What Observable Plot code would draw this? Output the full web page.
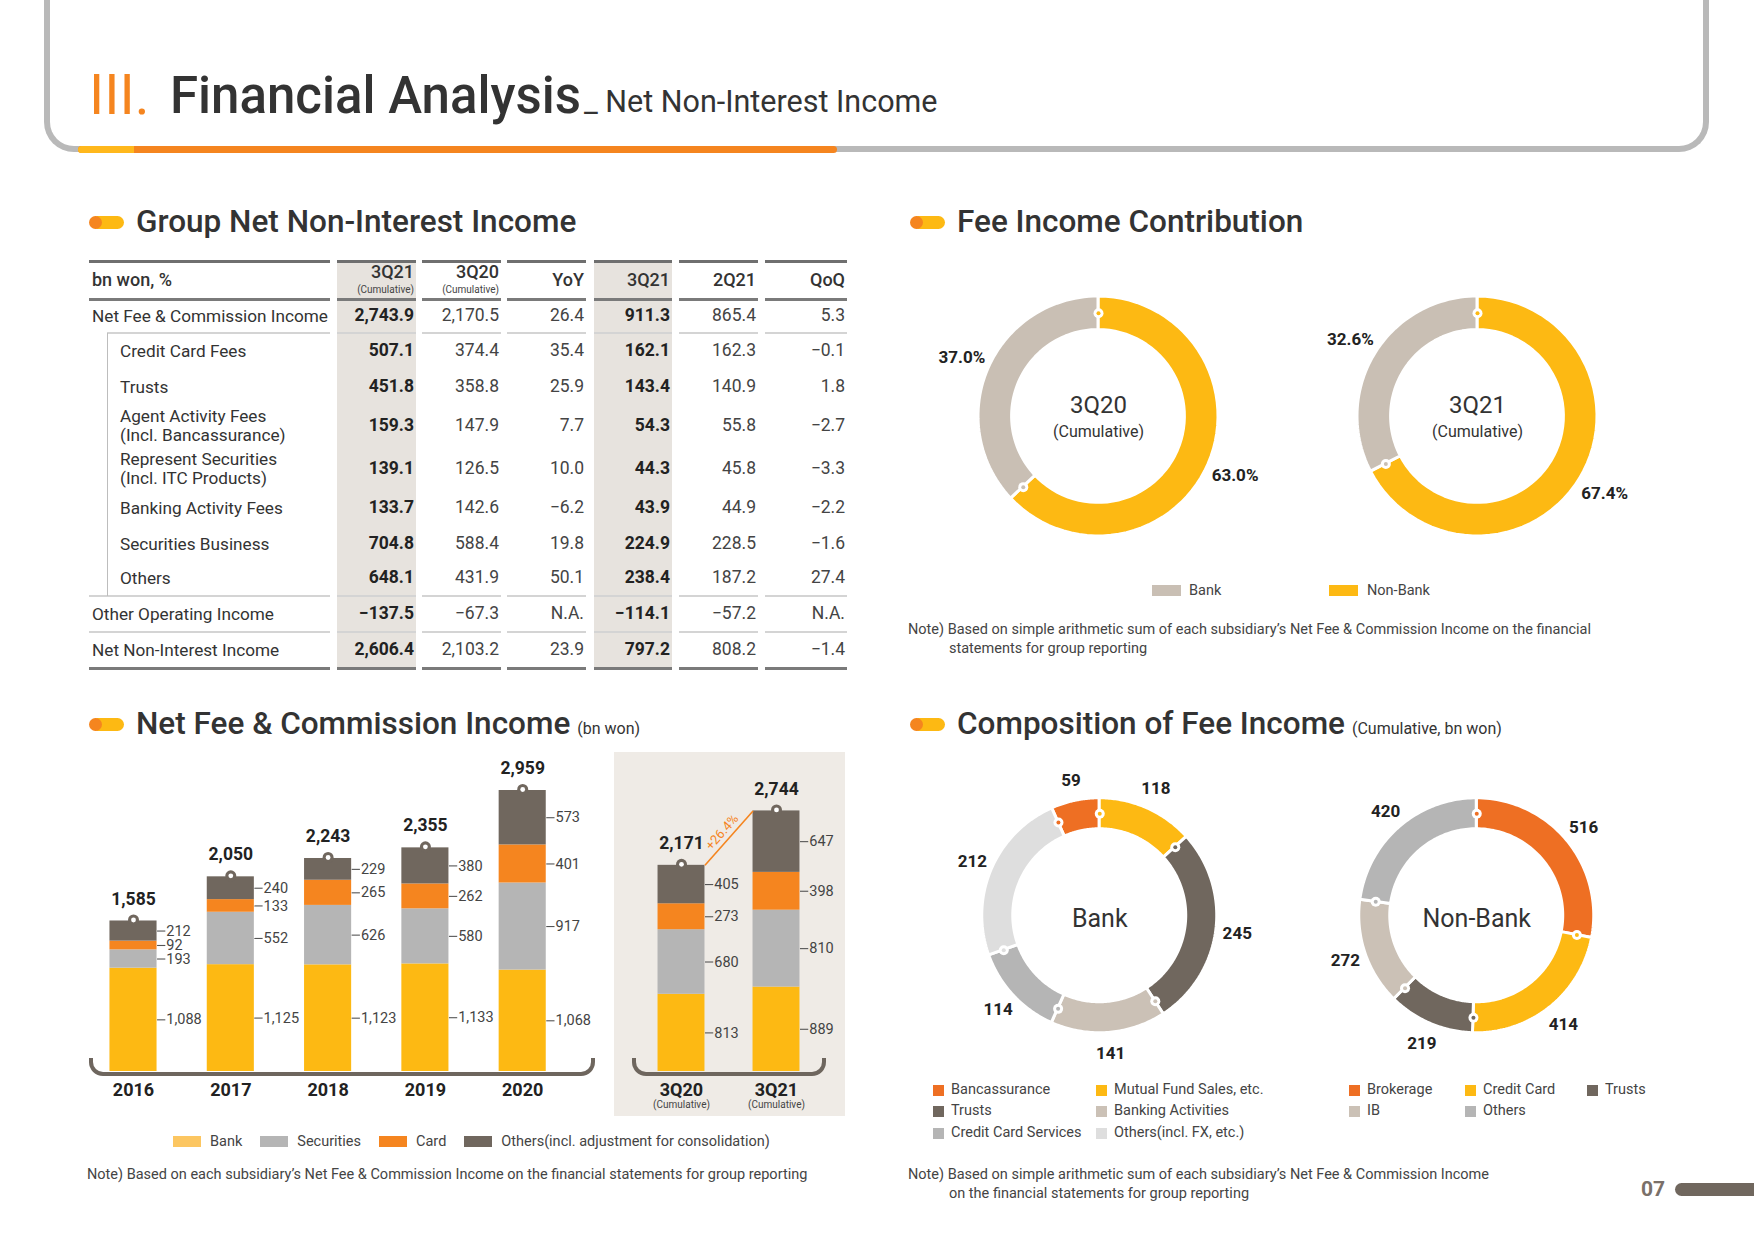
<!DOCTYPE html>
<html><head><meta charset="utf-8">
<script src="https://cdn.jsdelivr.net/npm/d3@7"></script>
<script src="https://cdn.jsdelivr.net/npm/@observablehq/plot@0.6"></script>
<style>
body{margin:0;background:#fff;}
#page{position:relative;width:1754px;height:1241px;overflow:hidden;font-family:Roboto,"Noto Sans",sans-serif;color:#333;background:#fff;}
.abs{position:absolute;}
.t{position:absolute;white-space:pre;line-height:1;transform:translateY(-50%);}
</style></head><body><div id="page"></div>
<script>
// ---------------- DATA ----------------
const tableHeader = ["3Q21","3Q20","YoY","3Q21","2Q21","QoQ"];
const tableHeaderSub = ["(Cumulative)","(Cumulative)","","","",""];
const tableLabels = ["Net Fee & Commission Income","Credit Card Fees","Trusts","Agent Activity Fees\n(Incl. Bancassurance)","Represent Securities\n(Incl. ITC Products)","Banking Activity Fees","Securities Business","Others","Other Operating Income","Net Non-Interest Income"];
const tableSubRow = [0,1,1,1,1,1,1,1,0,0];
const cum3Q21 = [2743.9,507.1,451.8,159.3,139.1,133.7,704.8,648.1,-137.5,2606.4];
const cum3Q20 = [2170.5,374.4,358.8,147.9,126.5,142.6,588.4,431.9,-67.3,2103.2];
const yoy     = [26.4,35.4,25.9,7.7,10.0,-6.2,19.8,50.1,null,23.9];
const q3Q21   = [911.3,162.1,143.4,54.3,44.3,43.9,224.9,238.4,-114.1,797.2];
const q2Q21   = [865.4,162.3,140.9,55.8,45.8,44.9,228.5,187.2,-57.2,808.2];
const qoq     = [5.3,-0.1,1.8,-2.7,-3.3,-2.2,-1.6,27.4,null,-1.4];

const years = ["2016","2017","2018","2019","2020"];
const bankFee = [1088,1125,1123,1133,1068];
const securitiesFee = [193,552,626,580,917];
const cardFee = [92,133,265,262,401];
const othersFee = [212,240,229,380,573];
const yearTotals = [1585,2050,2243,2355,2959];

const cumPeriods = ["3Q20","3Q21"];
const cumBank = [813,889];
const cumSecurities = [680,810];
const cumCard = [273,398];
const cumOthers = [405,647];
const cumTotals = [2171,2744];
const cumGrowth = "+26.4%";

const seriesNames = ["Bank","Securities","Card","Others(incl. adjustment for consolidation)"];

const contribCats = ["Non-Bank","Bank"];
const contrib3Q20 = [63.0,37.0];
const contrib3Q21 = [67.4,32.6];

const bankCompCats = ["Bancassurance","Mutual Fund Sales, etc.","Trusts","Banking Activities","Credit Card Services","Others(incl. FX, etc.)"];
const bankCompVals = [59,118,245,141,114,212];
const nonBankCompCats = ["Brokerage","Credit Card","Trusts","IB","Others"];
const nonBankCompVals = [516,414,219,272,420];

// ---------------- STYLE ----------------
const C = {yellow:"#fdb913", orange:"#f5851f", red:"#ee6f23", gray:"#b5b5b5", dark:"#70675e", beige:"#cbc1b6", light:"#dedede", text:"#333"};
const barColors = [C.yellow, C.gray, C.orange, C.dark];
const barLegendColors = ["#fcc661", C.gray, C.orange, C.dark];
const contribColors = [C.yellow, "#c9bfb4"];
const bankCompColors = [C.red, C.yellow, C.dark, C.beige, C.gray, C.light];
const nonBankCompColors = [C.red, C.yellow, C.dark, C.beige, C.gray];

const page = document.getElementById("page");
function box(x,y,w,h,css){const d=document.createElement("div");d.className="abs";Object.assign(d.style,{left:x+"px",top:y+"px",width:w+"px",height:h+"px"},css||{});page.appendChild(d);return d;}
function txt(x,y,s,css,anchor){const d=document.createElement("div");d.className="t";d.textContent=s;Object.assign(d.style,{left:x+"px",top:y+"px"},css||{});
  if(anchor==="end")d.style.transform="translate(-100%,-50%)";else if(anchor==="middle")d.style.transform="translate(-50%,-50%)";page.appendChild(d);return d;}
function place(svg,L,T){svg.style.position="absolute";svg.style.left=L+"px";svg.style.top=T+"px";page.appendChild(svg);}
const plotStyle = {fontFamily:"Roboto, 'Noto Sans', sans-serif", background:"transparent", overflow:"visible", color:C.text};

// ---------------- HEADER ----------------
box(44,-30,1665,182,{border:"6px solid #b9b9b9",borderTop:"none",borderRadius:"0 0 30px 30px",boxSizing:"border-box"});
box(78,146,759,7,{background:C.orange,borderRadius:"4px"});
box(78,146,56,7,{background:"#ffb81c",borderRadius:"4px 0 0 4px"});
txt(89,95,"III.",{fontSize:"56px",color:C.orange,fontWeight:"400"});
txt(170,95,"Financial Analysis",{fontSize:"51px",color:"#333",fontWeight:"500"});
txt(584,102,"_ Net Non-Interest Income",{fontSize:"30.5px",color:"#333",fontWeight:"400"});

function heading(x,y,title,sub){
  box(x+2,y-6.5,33,13,{background:C.yellow,borderRadius:"7px"});
  box(x,y-6.5,13,13,{background:C.orange,borderRadius:"50%"});
  const d=txt(x+47,y,title,{fontSize:"31.5px",fontWeight:"500",color:"#333"});
  if(sub){const s=document.createElement("span");s.textContent=" "+sub;s.style.fontSize="16px";s.style.fontWeight="400";s.style.marginLeft="3px";d.appendChild(s);}
}
heading(89,222,"Group Net Non-Interest Income");
heading(910,222,"Fee Income Contribution");
heading(89,724,"Net Fee & Commission Income","(bn won)");
heading(910,724,"Composition of Fee Income","(Cumulative, bn won)");

// ---------------- TABLE ----------------
const tCols = [{x0:337,x1:416},{x0:422,x1:501},{x0:507,x1:586},{x0:594,x1:672},{x0:679,x1:758},{x0:765,x1:847}];
const boldCols = [0,3];
const tTop = 261, tBottom = 668;
const rowCenters = [316,351,387,426,469,508,544,578,614,650];
boldCols.forEach(c=>box(tCols[c].x0,tTop,tCols[c].x1-tCols[c].x0,tBottom-tTop,{background:"#e7e3de"}));
function hline(y,th,color,labelX0){
  box(labelX0,y-th/2,330-labelX0,th,{background:color});
  tCols.forEach(c=>box(c.x0,y-th/2,c.x1-c.x0,th,{background:color}));
}
hline(tTop,3,"#6f6f6f",89);
hline(299,3,"#7a7a7a",89);
hline(333,2,"#d4d4d4",107);
hline(596,2,"#d4d4d4",89);
hline(632,2,"#d4d4d4",89);
hline(tBottom,3,"#7a7a7a",89);
box(107,333,1,263,{background:"#bdbdbd"});
txt(92,280,"bn won, %",{fontSize:"18px",fontWeight:"500",color:"#333"});
tableHeader.forEach((h,i)=>{
  const sub=tableHeaderSub[i];
  txt(tCols[i].x1-2, sub?272:280, h, {fontSize:"18px",fontWeight:"500",color:"#333"},"end");
  if(sub) txt(tCols[i].x1-2, 290, sub, {fontSize:"10px",color:"#444"},"end");
});
const fmt1 = v => v==null ? "N.A." : d3.format(",.1f")(v);
const tableData = [cum3Q21,cum3Q20,yoy,q3Q21,q2Q21,qoq];
tableLabels.forEach((lab,r)=>{
  txt(tableSubRow[r]?120:92, rowCenters[r], lab, {fontSize:"17.2px",lineHeight:"19px",color:"#333",fontWeight:"400"});
  tableData.forEach((col,c)=>{
    const bold = boldCols.includes(c);
    txt(tCols[c].x1-2, rowCenters[r], fmt1(col[r]), {fontSize:"17.5px",fontWeight:bold?"700":"400",color:bold?"#222":"#444"},"end");
  });
});

// ---------------- BAR PANELS ----------------
function stackRows(arrays){
  const rows=[];
  arrays[0].forEach((_,i)=>{let acc=0;arrays.forEach((arr,s)=>{rows.push({i,series:seriesNames[s],v:arr[i],y1:acc,y2:acc+arr[i]});acc+=arr[i];});});
  return rows;
}
const fmt0 = d3.format(",");
function barPanel({labels,arrays,totals,L,T,W,H,xFirst,step,base,k,hw,tick,sub,extra}){
  const rows = stackRows(arrays);
  const n = labels.length;
  const marks = [
    Plot.rect(rows,{x1:d=>d.i-hw,x2:d=>d.i+hw,y1:"y1",y2:"y2",fill:"series"}),
    Plot.link(rows,{x1:d=>d.i+hw,x2:d=>d.i+hw+tick,y1:d=>(d.y1+d.y2)/2,y2:d=>(d.y1+d.y2)/2,stroke:"#555",strokeWidth:1.1}),
    Plot.text(rows,{x:d=>d.i+hw+tick,y:d=>(d.y1+d.y2)/2,text:d=>fmt0(d.v),textAnchor:"start",dx:1,fontSize:14.5,fill:"#444"}),
    Plot.dot(totals,{x:(d,i)=>i,y:d=>d,r:5.5,fill:C.dark,dy:-1}),
    Plot.dot(totals,{x:(d,i)=>i,y:d=>d,r:2.4,fill:"white",dy:-1}),
    Plot.text(totals,{x:(d,i)=>i,y:d=>d,text:d=>fmt0(d),dy:-22,fontSize:17.5,fontWeight:"bold",fill:"#222"}),
    Plot.text(labels,{x:(d,i)=>i,y:()=>0,text:d=>d,dy:19,fontSize:18,fontWeight:"bold",fill:"#222"})
  ];
  if(sub) marks.push(Plot.text(labels,{x:(d,i)=>i,y:()=>0,text:()=>sub,dy:33,fontSize:10,fill:"#444"}));
  if(extra) marks.push(...extra(hw));
  const p = Plot.plot({
    width:W,height:H,margin:0,
    x:{type:"linear",domain:[0,n-1],range:[xFirst-L,xFirst-L+(n-1)*step],axis:null},
    y:{domain:[0,3000],range:[base-T,base-T-3000*k],axis:null},
    color:{domain:seriesNames,range:barColors},
    style:plotStyle,
    marks
  });
  place(p,L,T);
}
const BASE = 1071, K = 281/2959;
// shaded background for cumulative panel and brackets
box(614,752,231,364,{background:"#efebe6"});
box(89,1058,506,18,{border:"4px solid #6e665e",borderTop:"none",borderRadius:"0 0 14px 14px",boxSizing:"border-box"});
box(632,1058,194,18,{border:"4px solid #6e665e",borderTop:"none",borderRadius:"0 0 14px 14px",boxSizing:"border-box"});
barPanel({labels:years,arrays:[bankFee,securitiesFee,cardFee,othersFee],totals:yearTotals,L:80,T:720,W:540,H:400,xFirst:133,step:97.3,base:BASE,k:K,hw:0.242,tick:0.085});
barPanel({labels:cumPeriods,arrays:[cumBank,cumSecurities,cumCard,cumOthers],totals:cumTotals,L:614,T:752,W:231,H:364,xFirst:681,step:95,base:BASE,k:K,hw:0.247,tick:0.087,sub:"(Cumulative)",
  extra:(hw)=>[
    Plot.link([cumTotals],{x1:()=>hw,y1:d=>d[0],x2:()=>1-hw,y2:d=>d[1],stroke:C.orange,strokeWidth:1.6}),
    Plot.text([cumTotals],{x:()=>0.5,y:d=>(d[0]+d[1])/2,text:()=>cumGrowth,rotate:-48.6,dx:-7,dy:-6,fontSize:13,fill:C.orange})
  ]});
// bar legend
(function(){
  const wrap=box(173,1133,700,16,{display:"flex",alignItems:"center",gap:"18px",fontSize:"14.5px",color:"#444"});
  seriesNames.forEach((s,i)=>{const it=document.createElement("div");it.style.display="flex";it.style.alignItems="center";it.style.gap="9px";
    const sw=document.createElement("div");sw.style.width="28px";sw.style.height="11px";sw.style.background=barLegendColors[i];
    const t=document.createElement("span");t.textContent=s;t.style.whiteSpace="nowrap";it.appendChild(sw);it.appendChild(t);wrap.appendChild(it);});
})();
txt(87,1175,"Note) Based on each subsidiary’s Net Fee & Commission Income on the financial statements for group reporting",{fontSize:"14.5px",color:"#444"});

// ---------------- DONUTS ----------------
function donut({cats,vals,colors,cx,cy,R,ri,firstEndsAtTop,labelR,labelText,labelSize,center}){
  const S=3*R, total=d3.sum(vals);
  let acc = firstEndsAtTop ? -vals[0]/total*2*Math.PI : 0;
  const slices = vals.map((v,k)=>{const a0=acc;acc+=v/total*2*Math.PI;return {k,cat:cats[k],v,a0,a1:acc,mid:(a0+acc)/2};});
  const pts = slices.flatMap(s=>d3.range(0,61).map(j=>{const a=s.a0+(s.a1-s.a0)*j/60;return {k:s.k,cat:s.cat,xo:Math.sin(a),yo:Math.cos(a),xi:ri*Math.sin(a),yi:ri*Math.cos(a)};}));
  const rm=(1+ri)/2;
  const marks=[
    Plot.area(pts,{x1:"xo",y1:"yo",x2:"xi",y2:"yi",z:"k",fill:"cat",stroke:"white",strokeWidth:3}),
    Plot.dot(slices,{x:s=>Math.sin(s.a0)*rm,y:s=>Math.cos(s.a0)*rm,r:5,fill:"white"}),
    Plot.dot(slices,{x:s=>Math.sin(s.a0)*rm,y:s=>Math.cos(s.a0)*rm,r:2,fill:"cat"}),
    Plot.text(slices,{x:s=>Math.sin(s.mid)*labelR,y:s=>Math.cos(s.mid)*labelR,text:labelText,fontSize:labelSize,fontWeight:"bold",fill:"#222"})
  ];
  center.forEach(c=>marks.push(Plot.text([c.text],{x:()=>0,y:()=>0,text:d=>d,dy:c.dy,fontSize:c.size,fill:"#333"})));
  const p=Plot.plot({width:S,height:S,margin:0,
    x:{domain:[-1.5,1.5],range:[0,S],axis:null},
    y:{domain:[-1.5,1.5],range:[S,0],axis:null},
    color:{domain:cats,range:colors},
    style:plotStyle,marks});
  place(p,cx-S/2,cy-S/2);
}
const fmtPct = d3.format(".1f");
donut({cats:contribCats,vals:contrib3Q20,colors:contribColors,cx:1098,cy:416,R:120,ri:0.72,firstEndsAtTop:false,labelR:1.24,labelText:s=>fmtPct(s.v)+"%",labelSize:17,
  center:[{text:"3Q20",dy:-11,size:24},{text:"(Cumulative)",dy:15,size:16}]});
donut({cats:contribCats,vals:contrib3Q21,colors:contribColors,cx:1476.5,cy:416,R:120,ri:0.72,firstEndsAtTop:false,labelR:1.24,labelText:s=>fmtPct(s.v)+"%",labelSize:17,
  center:[{text:"3Q21",dy:-11,size:24},{text:"(Cumulative)",dy:15,size:16}]});
donut({cats:bankCompCats,vals:bankCompVals,colors:bankCompColors,cx:1099,cy:915,R:117.5,ri:0.736,firstEndsAtTop:true,labelR:1.18,labelText:s=>fmt0(s.v),labelSize:17,
  center:[{text:"Bank",dy:3,size:25}]});
donut({cats:nonBankCompCats,vals:nonBankCompVals,colors:nonBankCompColors,cx:1476.5,cy:915,R:117.5,ri:0.736,firstEndsAtTop:false,labelR:1.18,labelText:s=>fmt0(s.v),labelSize:17,
  center:[{text:"Non-Bank",dy:3,size:25}]});

// contribution legend
[[1152,1189],[1329,1367]].forEach(([sx,tx],i)=>{
  const k = contribCats.length-1-i; // Bank first, then Non-Bank
  box(sx,585,29,11,{background:contribColors[k]});
  txt(tx,591,contribCats[k],{fontSize:"14.5px",color:"#444"});
});
txt(908,630,"Note) Based on simple arithmetic sum of each subsidiary’s Net Fee & Commission Income on the financial",{fontSize:"14.5px",color:"#444"});
txt(949,649,"statements for group reporting",{fontSize:"14.5px",color:"#444"});

// composition legends
function gridLegend(cats,colors,colX,rowY){
  const nc=colX.length;
  cats.forEach((c,i)=>{const x=colX[i%nc],y=rowY[Math.floor(i/nc)];
    box(x,y-5.5,11,11,{background:colors[i]});
    txt(x+18,y,c,{fontSize:"14.5px",color:"#444"});});
}
gridLegend(bankCompCats,bankCompColors,[933,1096],[1090,1111,1133]);
gridLegend(nonBankCompCats,nonBankCompColors,[1349,1465,1587],[1090,1111,1133]);
txt(908,1175,"Note) Based on simple arithmetic sum of each subsidiary’s Net Fee & Commission Income",{fontSize:"14.5px",color:"#444"});
txt(949,1194,"on the financial statements for group reporting",{fontSize:"14.5px",color:"#444"});

// page number
txt(1653,1189,"07",{fontSize:"21px",fontWeight:"700",color:"#7a7069"},"middle");
box(1675,1183,100,13,{background:C.dark,borderRadius:"7px 0 0 7px"});
</script></body></html>
